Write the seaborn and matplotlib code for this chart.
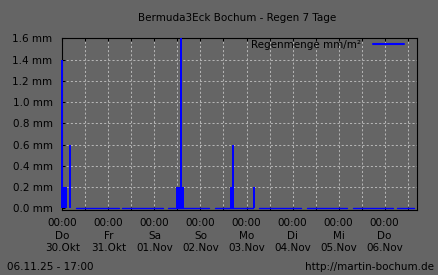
import numpy as np
import pandas as pd
import matplotlib
matplotlib.use("Agg")
import matplotlib.pyplot as plt
from matplotlib.lines import Line2D
from matplotlib.ticker import FixedLocator
import seaborn as sns

# ---- data (hours counted from Thu 30.10.2025 00:00) ----
rain_hours = [0, 1, 2, 4, 60, 61, 62, 63, 88, 89, 100]
rain_mm = [1.4, 0.2, 0.2, 0.6, 0.2, 0.2, 1.6, 0.2, 0.2, 0.6, 0.2]

# stretches with readings but no rain (start / end hour)
dry_start = [7.1, 31.3, 55.2, 79.7, 102.7, 127.7, 151.7, 174.6]
dry_end = [29.5, 52.5, 76.5, 99.5, 124.4, 148.2, 172.2, 183.1]

day_names = ["Do", "Fr", "Sa", "So", "Mo", "Di", "Mi", "Do"]
day_dates = ["30.Okt", "31.Okt", "01.Nov", "02.Nov", "03.Nov", "04.Nov", "05.Nov", "06.Nov"]
y_values = [0.0, 0.2, 0.4, 0.6, 0.8, 1.0, 1.2, 1.4, 1.6]
y_labels = ["%.1f mm" % v for v in y_values]
end_hour = 7 * 24 + 17  # 06.11. 17:00

title = "Bermuda3Eck Bochum - Regen 7 Tage"
legend_label = "Regenmenge mm/m²"
footer_left = "06.11.25 - 17:00"
footer_right = "http://martin-bochum.de"

# ---- style ----
BG = "#656565"
BLUE = "#0000ff"
GRID = "#b4b4b4"
FS = 7.5

sns.set_theme(style="ticks")
plt.rcParams["font.family"] = ["DejaVu Sans"]
plt.rcParams["text.color"] = "black"

W, H = 438, 275
fig = plt.figure(figsize=(W / 100, H / 100), dpi=100, facecolor=BG)
L, R, T, B = 62.3, 417.3, 38.3, 209.5
ax = fig.add_axes([L / W, 1 - B / H, (R - L) / W, (B - T) / H], facecolor=BG)

rain_df = pd.DataFrame({"hour": rain_hours, "mm": rain_mm})
sns.barplot(data=rain_df, x="hour", y="mm", native_scale=True, width=1,
            color=BLUE, saturation=1, errorbar=None, linewidth=0, ax=ax,
            zorder=3)
for p in ax.patches:
    p.set_clip_on(False)
    p.set_zorder(3)

n = len(dry_start)
dry_df = pd.DataFrame({"hour": dry_start + dry_end,
                       "mm": [0.0] * (2 * n),
                       "seg": list(range(n)) * 2})
sns.lineplot(data=dry_df, x="hour", y="mm", units="seg", estimator=None,
             color=BLUE, linewidth=1.0, ax=ax, legend=False, zorder=3)

ax.set_xlim(0, end_hour)
ax.set_ylim(-0.01, 1.6)

major = list(range(0, 24 * len(day_names), 24))
ax.xaxis.set_major_locator(FixedLocator(major))
ax.xaxis.set_minor_locator(FixedLocator(list(range(12, end_hour, 24))))
ax.set_xticklabels(["00:00\n%s\n%s" % (d, t) for d, t in zip(day_names, day_dates)])
ax.set_yticks(y_values)
ax.set_yticklabels(y_labels)
ax.set_xlabel("")
ax.set_ylabel("")

ax.tick_params(axis="x", which="both", direction="in", length=2.5, width=0.75,
               color="black", top=True, bottom=True, labelsize=FS,
               labelcolor="black", pad=6.3)
ax.tick_params(axis="y", which="both", direction="in", length=2.5, width=0.75,
               color="black", left=True, right=False, labelsize=FS,
               labelcolor="black", pad=7)
for lbl in ax.get_xticklabels():
    lbl.set_linespacing(1.3)

ax.set_axisbelow(True)
ax.grid(True, axis="x", which="both", color=GRID, linewidth=0.75, linestyle=(0, (2, 2)))
ax.grid(True, axis="y", which="major", color=GRID, linewidth=0.75, linestyle=(0, (2, 2)))
ygl = ax.yaxis.get_gridlines()
ygl[0].set_visible(False)
ygl[-1].set_visible(False)

for s in ax.spines.values():
    s.set_visible(True)
    s.set_color("black")
    s.set_linewidth(0.8)

handle = Line2D([], [], color=BLUE, linewidth=1.5)
leg = ax.legend(handles=[handle], labels=[legend_label], loc="upper right",
                bbox_to_anchor=(0.9625, 0.99), frameon=False, markerfirst=False,
                handlelength=3.0, handletextpad=1.1, borderpad=0, borderaxespad=0,
                prop={"size": FS})
for t in leg.get_texts():
    t.set_color("black")

fig.text(237 / W, 1 - 18 / H, title, ha="center", va="center", fontsize=FS, color="black")
fig.text(6.7 / W, 1 - 266.7 / H, footer_left, ha="left", va="center", fontsize=FS, color="black")
fig.text(433.5 / W, 1 - 266.7 / H, footer_right, ha="right", va="center", fontsize=FS, color="black")

fig.savefig("out.png", dpi=100, facecolor=BG)
